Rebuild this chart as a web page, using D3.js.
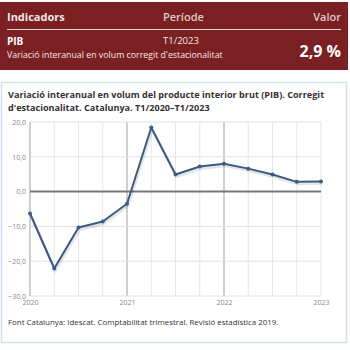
<!DOCTYPE html>
<html>
<head>
<meta charset="utf-8">
<script src="https://cdn.jsdelivr.net/npm/d3@7"></script>
<style>
  body { margin: 0; background: #fff; }
  text { font-family: "Open Sans", "Noto Sans", sans-serif; }
</style>
</head>
<body>
<div id="chart"></div>
<script>
// trimestres T1/2020 - T1/2023
const quarters = ['T1/2020','T2/2020','T3/2020','T4/2020','T1/2021','T2/2021','T3/2021','T4/2021',
                  'T1/2022','T2/2022','T3/2022','T4/2022','T1/2023']
const pibValues = [-6.3, -22.1, -10.3, -8.6, -3.5, 18.4, 4.9, 7.2, 8.0, 6.6, 4.9, 2.8, 2.9]
const yearLabels = ['2020', '2021', '2022', '2023']
const yTicks = [20, 10, 0, -10, -20, -30]

const svg = d3.select('#chart').append('svg')
    .attr('width', 350)
    .attr('height', 350)

// capçalera indicador
const head = svg.append('g')
head.append('rect')
    .attr('x', 0).attr('y', 2).attr('width', 348).attr('height', 68)
    .attr('fill', '#7a2022')
head.append('text').text('Indicadors')
    .attr('x', 7).attr('y', 21)
    .style('font-size', '11px').style('font-weight', 'bold').attr('fill', '#f3e6e6')
head.append('text').text('Període')
    .attr('x', 163).attr('y', 21)
    .style('font-size', '11px').style('font-weight', '600').attr('fill', '#e2c8c8')
head.append('text').text('Valor')
    .attr('x', 341).attr('y', 21).attr('text-anchor', 'end')
    .style('font-size', '11px').style('font-weight', '600').attr('fill', '#e2c8c8')
head.append('line')
    .attr('x1', 7).attr('x2', 341).attr('y1', 29.5).attr('y2', 29.5)
    .attr('stroke', '#e8d4d4').attr('stroke-width', 1)
head.append('text').text('PIB')
    .attr('x', 7).attr('y', 45)
    .style('font-size', '10px').style('font-weight', 'bold').attr('fill', '#fff')
head.append('text').text('T1/2023')
    .attr('x', 163).attr('y', 44)
    .style('font-size', '9.5px').attr('fill', '#f3e6e6')
head.append('text').text('Variació interanual en volum corregit d\'estacionalitat')
    .attr('x', 7).attr('y', 58)
    .style('font-size', '8.8px').attr('fill', '#f3e6e6')
head.append('text').text('2,9 %')
    .attr('x', 341).attr('y', 57).attr('text-anchor', 'end')
    .style('font-size', '16px').style('font-weight', 'bold').attr('fill', '#fff')

// caixa del gràfic
svg.append('rect')
    .attr('x', 1.5).attr('y', 82.5).attr('width', 345).attr('height', 260)
    .attr('fill', '#fff').attr('stroke', '#d3e0ee').attr('stroke-width', 1.5)

svg.append('text').text('Variació interanual en volum del producte interior brut (PIB). Corregit')
    .attr('x', 8).attr('y', 98)
    .style('font-size', '9.1px').style('font-weight', 'bold').attr('fill', '#333')
svg.append('text').text('d\'estacionalitat. Catalunya. T1/2020–T1/2023')
    .attr('x', 8).attr('y', 111)
    .style('font-size', '9.1px').style('font-weight', 'bold').attr('fill', '#333')

const xScale = d3.scaleLinear().domain([0, quarters.length - 1]).range([30, 321])
const yScale = d3.scaleLinear().domain([-30, 20]).range([296, 122])

const plot = svg.append('g')

// graella vertical
plot.selectAll('.vgrid')
    .data(quarters)
    .enter().append('line')
    .attr('x1', (d, i) => xScale(i)).attr('x2', (d, i) => xScale(i))
    .attr('y1', yScale(20)).attr('y2', yScale(-30))
    .attr('stroke', (d, i) => (i % 4 == 0 && i > 0 && i < 12) ? '#cfcfcf' : '#e6e6e6')
    .attr('stroke-width', (d, i) => (i % 4 == 0 && i > 0 && i < 12) ? 2 : 1)

// graella horitzontal
plot.selectAll('.hgrid')
    .data(yTicks.filter(d => d != 0))
    .enter().append('line')
    .attr('x1', xScale(0)).attr('x2', xScale(12))
    .attr('y1', d => yScale(d)).attr('y2', d => yScale(d))
    .attr('stroke', '#e3e3e3').attr('stroke-width', 1)

// eix esquerre
plot.append('line')
    .attr('x1', xScale(0)).attr('x2', xScale(0))
    .attr('y1', yScale(20)).attr('y2', yScale(-30))
    .attr('stroke', '#cfcfcf').attr('stroke-width', 2)

plot.append('line')
    .attr('x1', xScale(0)).attr('x2', xScale(12))
    .attr('y1', yScale(0)).attr('y2', yScale(0))
    .attr('stroke', '#777').attr('stroke-width', 2)

const yAxis = d3.axisLeft(yScale)
    .tickValues(yTicks)
    .tickFormat(d => d3.format('.1f')(d).replace('.', ','))
    .tickSize(0).tickPadding(4)
plot.append('g')
    .attr('transform', `translate(${xScale(0)}, 0)`)
    .call(yAxis)
    .call(g => g.select('.domain').remove())
    .selectAll('text')
    .style('font-size', '7px').attr('fill', '#888')

const xAxis = d3.axisBottom(xScale)
    .tickValues(yearLabels.map((d, i) => i * 4))
    .tickFormat((d, i) => yearLabels[i])
    .tickSize(0).tickPadding(4)
plot.append('g')
    .attr('transform', `translate(0, ${yScale(-30)})`)
    .call(xAxis)
    .call(g => g.select('.domain').remove())
    .selectAll('text')
    .style('font-size', '7px').attr('fill', '#888')

const line = d3.line()
    .x((d, i) => xScale(i))
    .y(d => yScale(d))

// ombra
plot.append('path')
    .datum(pibValues)
    .attr('d', line)
    .attr('transform', 'translate(1, 2)')
    .attr('fill', 'none')
    .attr('stroke', '#000').attr('stroke-opacity', 0.1).attr('stroke-width', 3)

plot.append('path')
    .datum(pibValues)
    .attr('d', line)
    .attr('fill', 'none')
    .attr('stroke', '#3b5b81').attr('stroke-width', 2)
    .attr('stroke-linejoin', 'round')

plot.selectAll('.dot')
    .data(pibValues)
    .enter().append('circle')
    .attr('cx', (d, i) => xScale(i))
    .attr('cy', d => yScale(d))
    .attr('r', 2)
    .attr('fill', '#3b5b81')

svg.append('text').text('Font Catalunya: Idescat. Comptabilitat trimestral. Revisió estadística 2019.')
    .attr('x', 8).attr('y', 325)
    .style('font-size', '7.9px').attr('fill', '#333')
</script>
</body>
</html>
